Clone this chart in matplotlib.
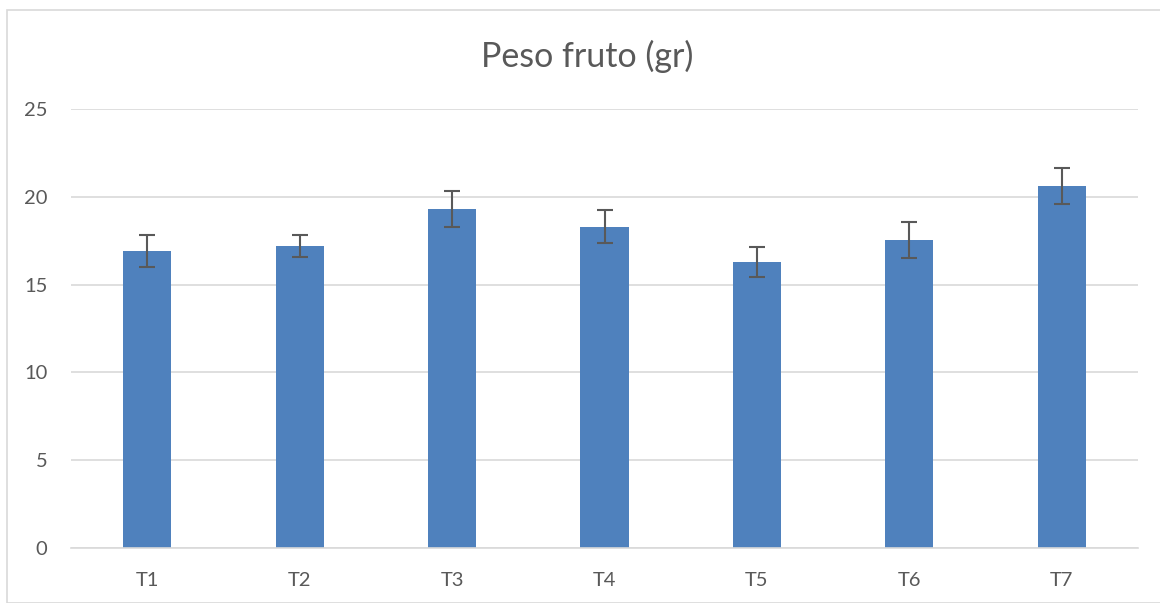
import matplotlib.pyplot as plt
from matplotlib.patches import Rectangle

plt.rcParams['font.family'] = ['Lato', 'DejaVu Sans']

labels = ['T1', 'T2', 'T3', 'T4', 'T5', 'T6', 'T7']
peso = [16.9, 17.2, 19.3, 18.3, 16.3, 17.55, 20.6]
err = [0.93, 0.64, 1.0, 0.95, 0.85, 1.03, 1.0]

fig = plt.figure(figsize=(11.6, 6.03), dpi=100)
fig.patches.append(Rectangle((7/1160, 0), 1.2, 1 - 10/603, transform=fig.transFigure,
                             fill=False, edgecolor='#D9D9D9', linewidth=1.2))
ax = fig.add_axes([71/1160, 1 - 548.3/603, (1138 - 71)/1160, (548.3 - 108.7)/603])

x = range(len(labels))
ax.bar(x, peso, width=0.315, color='#4F81BD', zorder=2)
ax.errorbar(x, peso, yerr=err, fmt='none', ecolor='#595959', elinewidth=1.5,
            capsize=6, capthick=1.5, zorder=3)

ax.set_xlim(-0.5, len(labels) - 0.5)
ax.set_ylim(0, 25)
ax.set_yticks([0, 5, 10, 15, 20, 25])
ax.set_xticks(list(x))
ax.set_xticklabels(labels)
ax.yaxis.grid(True, color='#D9D9D9', linewidth=1.2, zorder=0)
ax.set_axisbelow(True)
for s in ['top', 'right', 'left']:
    ax.spines[s].set_visible(False)
ax.spines['bottom'].set_color('#D9D9D9')
ax.spines['bottom'].set_linewidth(1.2)
ax.tick_params(axis='both', length=0, labelsize=14.5, colors='#595959')
ax.tick_params(axis='y', pad=17)
ax.tick_params(axis='x', pad=17)

fig.text(587/1160, 1 - 56/603, 'Peso fruto (gr)', ha='center', va='center',
         fontsize=24.5, color='#595959')

fig.savefig('out.png', dpi=100)
